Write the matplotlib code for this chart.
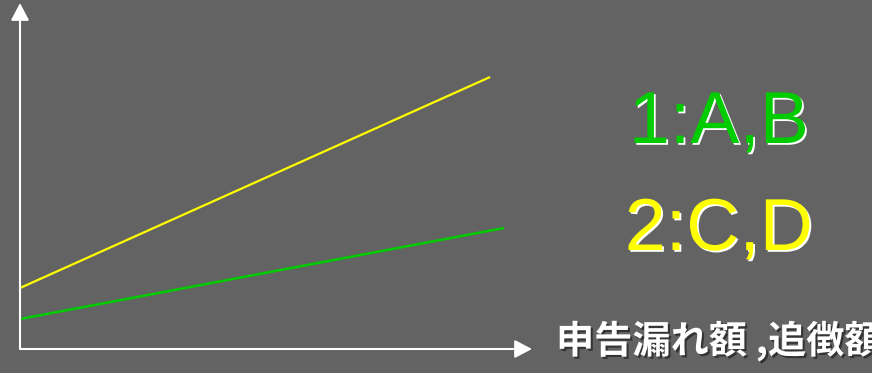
import matplotlib
matplotlib.use("Agg")
import matplotlib.pyplot as plt
import matplotlib.patheffects as pe

# data
x_vals = [0, 10.1]
yellow_vals = [6.1, 27.2]
x_green = [0, 10.4]
green_vals = [3.0, 12.1]
legend_labels = ["1:A,B", "2:C,D"]
axis_label = "申告漏れ額 ,追徴額"

W, H = 872, 373
fig = plt.figure(figsize=(W / 100, H / 100), dpi=100)
bg = "#636363"
fig.patch.set_facecolor(bg)

ax = fig.add_axes([20 / W, (H - 349) / H, (532 - 20) / W, (349 - 3) / H])
ax.set_facecolor(bg)
ax.set_xlim(0, 11)
ax.set_ylim(0, 34.6)
for s in ax.spines.values():
    s.set_visible(False)
ax.set_xticks([])
ax.set_yticks([])

ax.plot(x_vals, yellow_vals, color="#ffff00", lw=1.6, solid_capstyle="butt")
ax.plot(x_green, green_vals, color="#00cc00", lw=1.8, solid_capstyle="butt")

arrow = dict(arrowstyle="-|>,head_length=1.05,head_width=0.55", color="white",
             lw=1.5, mutation_scale=10, shrinkA=0, shrinkB=0)
ax.annotate("", xy=(1, 0), xytext=(0, 0), xycoords="axes fraction",
            arrowprops=arrow, annotation_clip=False)
ax.annotate("", xy=(0, 1), xytext=(0, 0), xycoords="axes fraction",
            arrowprops=arrow, annotation_clip=False)

shadow_w = [pe.withSimplePatchShadow(offset=(1.3, -1.3), shadow_rgbFace="white", alpha=1.0)]
fig.text(719 / W, 1 - 143 / H, legend_labels[0], color="#00cc00", fontsize=53,
         family="Liberation Sans", ha="center", va="baseline", path_effects=shadow_w)
fig.text(719 / W, 1 - 250 / H, legend_labels[1], color="#ffff00", fontsize=53,
         family="Liberation Sans", ha="center", va="baseline", path_effects=shadow_w)

shadow_d = [pe.withSimplePatchShadow(offset=(1.5, -1.5), shadow_rgbFace="#333333", alpha=1.0)]
fig.text(556 / W, 1 - 341 / H, axis_label, color="white", fontsize=27.5,
         family=["Noto Sans CJK JP", "DejaVu Sans"], fontweight="bold",
         ha="left", va="center", path_effects=shadow_d)

fig.savefig("out.png", dpi=100, facecolor=bg)
